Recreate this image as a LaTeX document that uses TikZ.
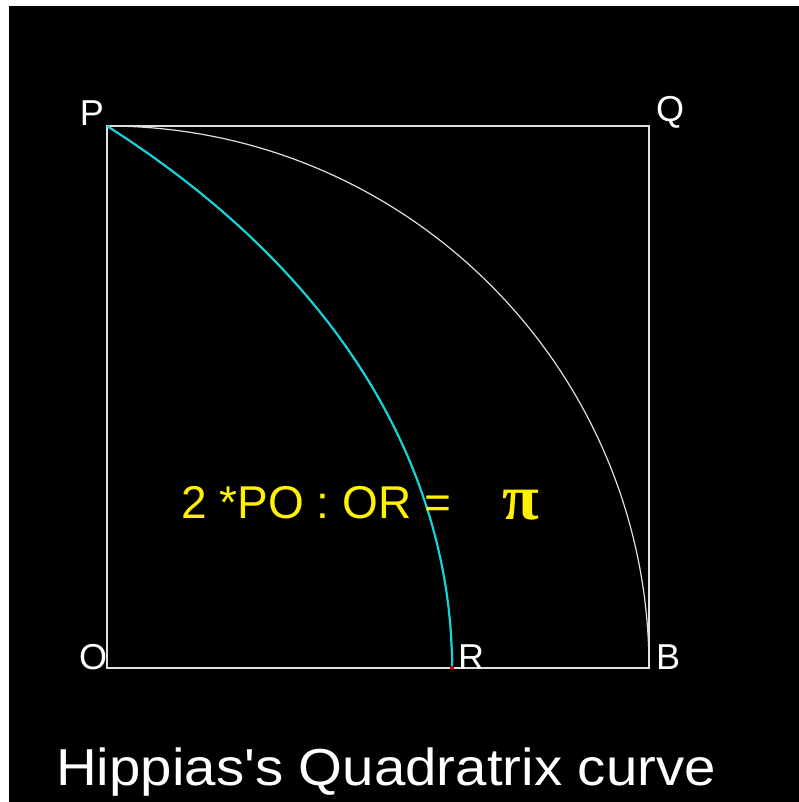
\documentclass[tikz,border=0pt]{standalone}
\usepackage{fontspec}
\setmainfont{Liberation Sans}
\newfontfamily\pifont{Liberation Serif}
\definecolor{quadcyan}{RGB}{25,210,215}
\begin{document}
\begin{tikzpicture}[x=1pt,y=-1pt,
  edge/.style={draw=white!88!black,line width=1.6pt},
  quadr/.style={draw=quadcyan,line width=2.2pt},
  lbl/.style={text=white,font=\fontsize{36}{36}\selectfont,inner sep=0pt},
  eqn/.style={text=yellow,font=\fontsize{46}{46}\selectfont,inner sep=0pt,anchor=base west}]
\fill[white] (0,0) rectangle (799,802);
\fill[black] (9,6) rectangle (799,802);
\useasboundingbox (0,0) rectangle (799,802);
\def\rad{542}
\coordinate (O) at (107,668);
\coordinate (P) at (107,126);
\coordinate (Q) at (649,126);
\coordinate (B) at (649,668);
\coordinate (R) at (452,668);
% square
\draw[edge] (P) -- (Q) -- (B) -- (O) -- cycle;
% quarter circle
\draw[edge,line width=1.2pt] (P) arc[start angle=90,end angle=0,x radius=\rad,y radius=-\rad];
% quadratrix
\draw[quadr] plot[domain=90:1,samples=180] ({107+(\x/90*\rad*cos(\x))/sin(\x)},{668-\x/90*\rad}) -- (R);
\fill[red!80!black] (R) circle[radius=2pt];
% labels
\node[lbl] (lP) at (92,113) {P};
\node[lbl] (lQ) at (670,112) {Q};
\node[lbl] (lO) at (93,657) {O};
\node[lbl] (lR) at (471,657) {R};
\node[lbl] (lB) at (668,657) {B};
% equation
\node[eqn] (eq) at (181,518) {2 *PO : OR =};
\node[text=yellow,font=\pifont\bfseries\fontsize{64}{64}\selectfont,inner sep=0pt,anchor=base west,xscale=1.05] (pi) at (502,519) {π};
% title
\node[text=white,font=\fontsize{52}{52}\selectfont,inner sep=0pt,anchor=base west,xscale=1.085] (title) at (56,785) {Hippias\textquotesingle s Quadratrix curve};
\end{tikzpicture}
\end{document}
